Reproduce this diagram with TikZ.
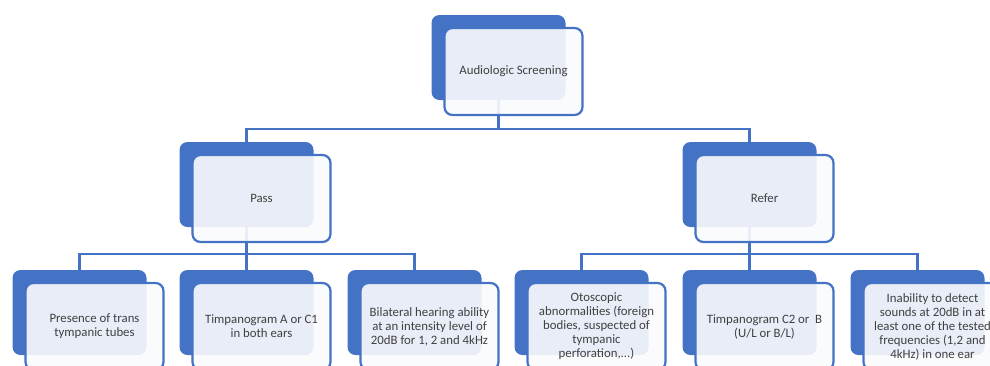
\documentclass[tikz,border=0pt]{standalone}
\usepackage{fontspec}
\setmainfont{Carlito}
\usepackage{tikz}
\usepackage{xcolor}
\usetikzlibrary{positioning,calc,backgrounds}
\definecolor{chartblue}{HTML}{4472C4}
\definecolor{chartpale}{HTML}{FAFBFD}
\definecolor{charttext}{HTML}{404040}
\tikzset{
  backbox/.style={
    fill=chartblue,
    draw=none,
    rounded corners=8pt,
    minimum width=134pt,
    minimum height=85pt,
    inner sep=0pt
  },
  frontbox/.style={
    draw=chartblue,
    line width=2.2pt,
    fill=chartpale,
    fill opacity=0.9,
    text opacity=1,
    text=charttext,
    rounded corners=8pt,
    minimum width=138pt,
    minimum height=87pt,
    inner sep=2pt,
    align=center,
    font=\fontsize{12.8}{14}\selectfont
  },
  treeline/.style={draw=chartblue, line width=2.2pt}
}

\begin{document}
\begin{tikzpicture}[x=1pt,y=-1pt]
\useasboundingbox (0,0) rectangle (990,365);
\clip (0,0) rectangle (990,365);

% back boxes
\node[backbox] (screen) at (498.5,57.5) {};
\node[backbox] (pass) at (246.5,184.5) {};
\node[backbox] (refer) at (749.5,184.5) {};
\node[backbox] (tubes) at (79.5,312.5) {};
\node[backbox] (tympa) at (246.5,312.5) {};
\node[backbox] (hearing) at (414.5,312.5) {};
\node[backbox] (otoscopy) at (581.5,312.5) {};
\node[backbox] (tympb) at (749.5,312.5) {};
\node[backbox] (detect) at (917.5,312.5) {};

% front boxes
\node[frontbox] (screenf) at ($(screen)+(15,14)$) {Audiologic Screening};
\node[frontbox] (passf) at ($(pass)+(15,14)$) {Pass};
\node[frontbox] (referf) at ($(refer)+(15,14)$) {Refer};
\node[frontbox] (tubesf) at ($(tubes)+(15,14)$) {Presence of trans\\tympanic tubes};
\node[frontbox] (tympaf) at ($(tympa)+(15,14)$) {Timpanogram A or C1\\in both ears};
\node[frontbox] (hearingf) at ($(hearing)+(15,14)$) {Bilateral hearing ability\\at an intensity level of\\20dB for 1, 2 and 4kHz};
\node[frontbox] (otoscopyf) at ($(otoscopy)+(15,14)$) {Otoscopic\\abnormalities (foreign\\bodies, suspected of\\tympanic\\perforation,...)};
\node[frontbox] (tympbf) at ($(tympb)+(15,14)$) {Timpanogram C2 or~ B\\(U/L or B/L)};
\node[frontbox] (detectf) at ($(detect)+(15,14)$) {Inability to detect\\sounds at 20dB in at\\least one of the tested\\frequencies (1,2 and\\4kHz) in one ear};

% connectors
\begin{scope}[on background layer]
\draw[treeline] (screen.south) -- ++(0,29) -| (pass.north);
\draw[treeline] (screen.south) -- ++(0,29) -| (refer.north);
\foreach \kid in {tubes,tympa,hearing}
  \draw[treeline] (pass.south) -- ++(0,27) -| (\kid.north);
\foreach \kid in {otoscopy,tympb,detect}
  \draw[treeline] (refer.south) -- ++(0,27) -| (\kid.north);
\end{scope}
\end{tikzpicture}
\end{document}
